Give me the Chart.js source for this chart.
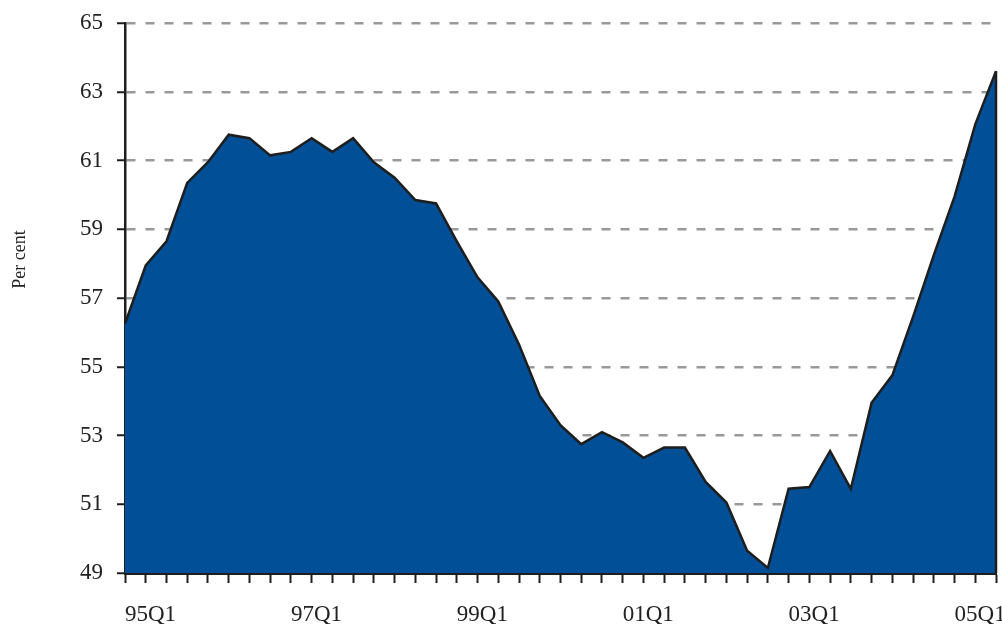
<!DOCTYPE html>
<html>
<head>
<meta charset="utf-8">
<script src="https://cdn.jsdelivr.net/npm/chart.js@4/dist/chart.umd.min.js"></script>
<style>
    html, body { margin: 0; padding: 0; background: #fff; }
    #wrap { width: 1002px; height: 624px; }
</style>
</head>
<body>
<div id="wrap"><canvas id="shareChart"></canvas></div>
<script>
// Quarters 95Q1 .. 05Q3
var quarters = [
    '95Q1', '95Q2', '95Q3', '95Q4', '96Q1', '96Q2', '96Q3', '96Q4',
    '97Q1', '97Q2', '97Q3', '97Q4', '98Q1', '98Q2', '98Q3', '98Q4',
    '99Q1', '99Q2', '99Q3', '99Q4', '00Q1', '00Q2', '00Q3', '00Q4',
    '01Q1', '01Q2', '01Q3', '01Q4', '02Q1', '02Q2', '02Q3', '02Q4',
    '03Q1', '03Q2', '03Q3', '03Q4', '04Q1', '04Q2', '04Q3', '04Q4',
    '05Q1', '05Q2', '05Q3'
];

// Per cent
var shareValues = [
    56.25, 57.95, 58.65, 60.35, 60.95, 61.75, 61.65, 61.15,
    61.25, 61.65, 61.25, 61.65, 60.95, 60.5, 59.85, 59.75,
    58.65, 57.6, 56.9, 55.65, 54.15, 53.3, 52.75, 53.1,
    52.8, 52.35, 52.65, 52.65, 51.65, 51.05, 49.65, 49.15,
    51.45, 51.5, 52.55, 51.45, 53.95, 54.75, 56.45, 58.25,
    59.95, 62.05, 63.6
];

var shownLabels = ['95Q1', '97Q1', '99Q1', '01Q1', '03Q1', '05Q1'];
var yMin = 49, yMax = 65, yStep = 2;
var yTitle = 'Per cent';

var serif = '"Liberation Serif", "DejaVu Serif", serif';

// close the area on its right side, like the original
var rightEdge = {
    id: 'rightEdge',
    afterDatasetsDraw: function(chart) {
        var meta = chart.getDatasetMeta(0);
        var last = meta.data[meta.data.length - 1];
        var ctx = chart.ctx;
        ctx.save();
        ctx.strokeStyle = '#1e1e1e';
        ctx.lineWidth = 2.5;
        ctx.beginPath();
        ctx.moveTo(last.x, last.y);
        ctx.lineTo(last.x, chart.scales.y.getPixelForValue(yMin));
        ctx.stroke();
        ctx.restore();
    }
};

// y axis title sits a bit above the middle in the original
var axisTitle = {
    id: 'axisTitle',
    afterDraw: function(chart) {
        var ctx = chart.ctx;
        var area = chart.chartArea;
        ctx.save();
        ctx.translate(20, area.top + (area.bottom - area.top) * 0.43);
        ctx.rotate(-Math.PI / 2);
        ctx.font = '18px ' + serif;
        ctx.fillStyle = '#222';
        ctx.textAlign = 'center';
        ctx.textBaseline = 'middle';
        ctx.fillText(yTitle, 0, 0);
        ctx.restore();
    }
};

var ctx = document.getElementById('shareChart').getContext('2d');
var shareChart = new Chart(ctx, {
    type: 'line',
    data: {
        labels: quarters,
        datasets: [{
            data: shareValues,
            borderColor: '#1e1e1e',
            borderWidth: 2.5,
            backgroundColor: '#004f97',
            fill: 'start',
            pointRadius: 0,
            tension: 0
        }]
    },
    options: {
        responsive: true,
        maintainAspectRatio: false,
        animation: false,
        layout: {
            padding: { left: 80, right: 6, top: 23, bottom: 0 }
        },
        plugins: {
            legend: { display: false },
            tooltip: { enabled: false }
        },
        scales: {
            x: {
                afterFit: function(scale) {
                    scale.height = 51;
                    scale.paddingLeft = 0;
                    scale.paddingRight = 0;
                },
                grid: {
                    drawOnChartArea: false,
                    tickLength: 10,
                    tickColor: '#1e1e1e',
                    tickWidth: 2
                },
                border: { color: '#1e1e1e', width: 3 },
                ticks: {
                    autoSkip: false,
                    maxRotation: 0,
                    align: 'start',
                    padding: 20,
                    color: '#222',
                    font: { family: serif, size: 23, lineHeight: 1 },
                    callback: function(value, index) {
                        var lab = quarters[index];
                        return shownLabels.indexOf(lab) >= 0 ? lab : '';
                    }
                }
            },
            y: {
                min: yMin,
                max: yMax,
                afterFit: function(scale) {
                    scale.width = 45;
                    scale.paddingTop = 0;
                    scale.paddingBottom = 0;
                },
                grid: {
                    color: '#999',
                    lineWidth: 2.5,
                    tickLength: 8,
                    tickColor: '#1e1e1e',
                    tickWidth: 2
                },
                border: { color: '#1e1e1e', width: 2.5, dash: [9, 10] },
                ticks: {
                    stepSize: yStep,
                    padding: 14,
                    color: '#222',
                    font: { family: serif, size: 23 }
                }
            }
        }
    },
    plugins: [rightEdge, axisTitle]
});
</script>
</body>
</html>
